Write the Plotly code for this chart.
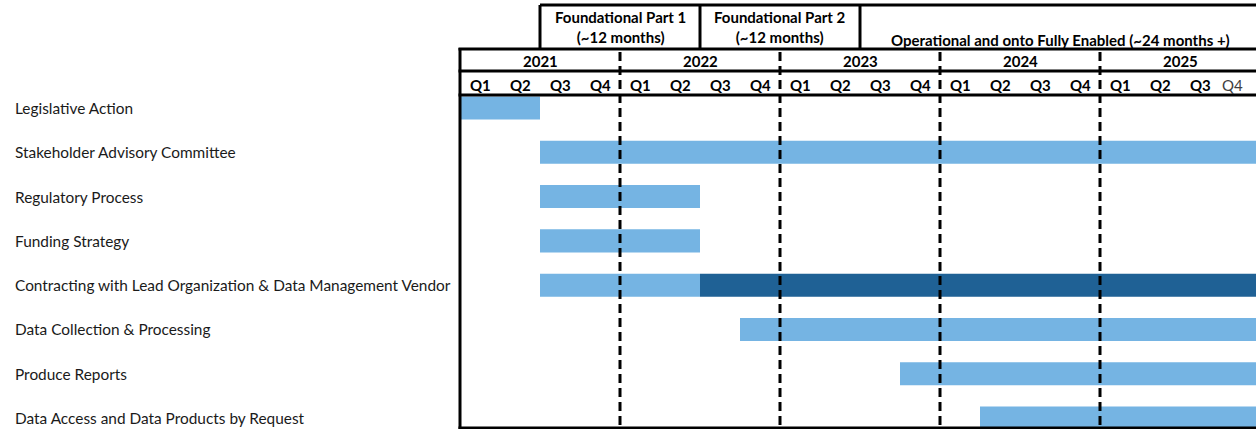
import plotly.graph_objects as go

# ---------------- data ----------------
tasks = [
    "Legislative Action",
    "Stakeholder Advisory Committee",
    "Regulatory Process",
    "Funding Strategy",
    "Contracting with Lead Organization & Data Management Vendor",
    "Data Collection & Processing",
    "Produce Reports",
    "Data Access and Data Products by Request",
]
# positions in quarters from 2021 Q1 start
phase1_start = [0, 2, 2, 2, 2, 7, 11, 13]
phase1_end = [2, 20, 6, 6, 6, 20, 20, 20]
phase2_tasks = ["Contracting with Lead Organization & Data Management Vendor"]
phase2_start = [6]
phase2_end = [20]

years = ["2021", "2022", "2023", "2024", "2025"]
quarters = ["Q1", "Q2", "Q3", "Q4"]
phase_labels = [
    "Foundational Part 1<br>(~12 months)",
    "Foundational Part 2<br>(~12 months)",
    "Operational and onto Fully Enabled (~24 months +)",
]
phase_start = [2, 6, 10]
phase_end = [6, 10, 20]

# ---------------- layout geometry ----------------
W, H = 1256, 429
ML, MR, MT, MB = 460, 0, 96, 1
PH = H - MT - MB
XMAX = (W - ML) / 40.0  # 40 px per quarter

LIGHT = "#75B4E3"
DARK = "#1F6195"
FONT = "Lato"
HSIZE = 15
TSIZE = 15.4


def py(p):
    """pixel y (from top) -> paper y"""
    return (H - MB - p) / PH


fig = go.Figure()
fig.add_trace(go.Bar(
    y=tasks, base=phase1_start,
    x=[e - s for s, e in zip(phase1_start, phase1_end)],
    orientation="h", marker=dict(color=LIGHT, line=dict(width=0)),
    width=0.52, hoverinfo="skip", showlegend=False,
))
fig.add_trace(go.Bar(
    y=phase2_tasks, base=phase2_start,
    x=[e - s for s, e in zip(phase2_start, phase2_end)],
    orientation="h", marker=dict(color=DARK, line=dict(width=0)),
    width=0.52, hoverinfo="skip", showlegend=False,
))

shapes = []
annotations = []
LINE = dict(color="black", width=3)

# header frame lines
shapes.append(dict(type="line", xref="x", yref="paper", x0=phase_start[0], x1=XMAX + 1,
                   y0=py(5), y1=py(5), line=LINE))
for s in phase_start:
    shapes.append(dict(type="line", xref="x", yref="paper", x0=s, x1=s,
                       y0=py(5), y1=py(49), line=LINE))
for p in (49, 71, 95):
    shapes.append(dict(type="line", xref="paper", yref="paper", x0=-1.5 / (W - ML), x1=1.01,
                       y0=py(p), y1=py(p), line=LINE))
shapes.append(dict(type="line", xref="paper", yref="paper", x0=-1.5 / (W - ML), x1=1.01,
                   y0=py(428), y1=py(428), line=LINE))
shapes.append(dict(type="line", xref="paper", yref="paper", x0=0, x1=0,
                   y0=py(48), y1=py(429), line=LINE))
# dashed year separators
for i in range(1, len(years)):
    shapes.append(dict(type="line", xref="x", yref="paper", x0=4 * i, x1=4 * i,
                       y0=py(52), y1=py(428),
                       line=dict(color="black", width=3, dash="9px,5px")))

# phase labels
for lab, s, e in zip(phase_labels, phase_start, phase_end):
    two = "<br>" in lab
    annotations.append(dict(xref="x", yref="paper", x=(s + e) / 2, y=py(26.5 if two else 40),
                            text="<b>" + lab + "</b>", showarrow=False,
                            font=dict(family=FONT, size=HSIZE, color="black"),
                            xanchor="center", yanchor="middle"))
# year labels
for i, yr in enumerate(years):
    annotations.append(dict(xref="x", yref="paper", x=4 * i + 2, y=py(60.5),
                            text="<b>" + yr + "</b>", showarrow=False,
                            font=dict(family=FONT, size=HSIZE, color="black"),
                            xanchor="center", yanchor="middle"))
# quarter labels
for i in range(len(years)):
    for j, q in enumerate(quarters):
        last = (i == len(years) - 1 and j == len(quarters) - 1)
        annotations.append(dict(xref="x", yref="paper", x=4 * i + j + (0.3 if last else 0.5), y=py(84.5),
                                text=q if last else "<b>" + q + "</b>", showarrow=False,
                                font=dict(family=FONT, size=HSIZE, color="#404040" if last else "black"),
                                xanchor="center", yanchor="middle"))
# task labels
for t in tasks:
    annotations.append(dict(xref="paper", yref="y", x=(13 - ML) / (W - ML), y=t,
                            text=t, showarrow=False,
                            font=dict(family=FONT, size=TSIZE, color="#1a1a1a"),
                            xanchor="left", yanchor="middle"))

row_px = 44.29
fig.update_layout(
    width=W, height=H,
    margin=dict(l=ML, r=MR, t=MT, b=MB, pad=0),
    paper_bgcolor="white", plot_bgcolor="white",
    barmode="overlay",
    xaxis=dict(range=[0, XMAX], showgrid=False, zeroline=False, showticklabels=False,
               ticks="", showline=False, fixedrange=True),
    yaxis=dict(type="category", categoryarray=tasks,
               range=[(428 - 108) / row_px, -(108 - 96) / row_px],
               showgrid=False, zeroline=False, showticklabels=False, ticks="",
               showline=False, fixedrange=True),
    shapes=shapes, annotations=annotations,
    font=dict(family=FONT),
)

fig.write_html(
    "out.html",
    config={"displayModeBar": False},
    post_script="document.body.style.margin='0';document.body.style.overflow='hidden';",
)
